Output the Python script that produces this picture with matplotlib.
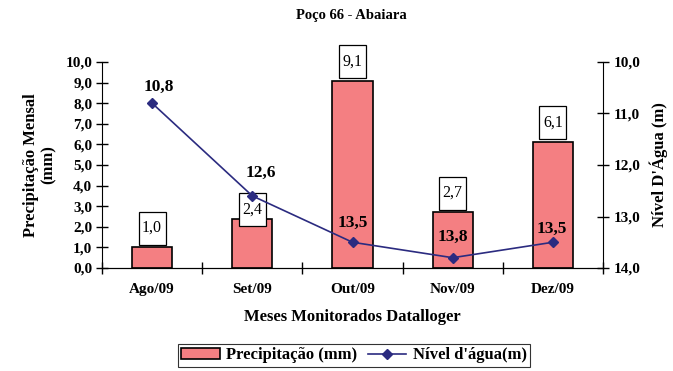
import matplotlib
matplotlib.use('Agg')
import matplotlib.pyplot as plt
from matplotlib.patches import Rectangle
from matplotlib.ticker import FuncFormatter

meses = ['Ago/09', 'Set/09', 'Out/09', 'Nov/09', 'Dez/09']
precip = [1.0, 2.4, 9.1, 2.7, 6.1]
nivel = [10.8, 12.6, 13.5, 13.8, 13.5]

plt.rcParams['font.family'] = 'Liberation Serif'
plt.rcParams['font.weight'] = 'bold'

fig = plt.figure(figsize=(6.73, 3.71), dpi=100)
ax = fig.add_axes([0.1516, 0.2776, 0.7444, 0.5553])
x = list(range(len(meses)))

bars = ax.bar(x, precip, width=0.4, color='#F47F82', edgecolor='black', linewidth=1.2,
              label='Precipitação (mm)', zorder=2)
ax.set_xlim(-0.5, 4.5)
ax.set_ylim(0, 10)
ax.set_yticks([i for i in range(11)])
comma = FuncFormatter(lambda v, p: ('%.1f' % v).replace('.', ','))
ax.yaxis.set_major_formatter(comma)
ax.set_xticks(x)
ax.set_xticklabels(meses, fontsize=11, fontweight='bold')
ax.set_xticks([i + 0.5 for i in range(-1, 5)], minor=True)
ax.tick_params(axis='x', which='major', length=0, pad=11)
ax.tick_params(axis='x', which='minor', length=8, direction='inout', width=1)
ax.tick_params(axis='y', direction='inout', length=8, labelsize=11, width=1, pad=3)
for t in ax.get_yticklabels():
    t.set_fontweight('bold')
ax.spines['top'].set_visible(False)
ax.spines['right'].set_visible(False)
ax.set_xlabel('Meses Monitorados Datalloger', fontsize=12, fontweight='bold', labelpad=9)
ax.set_ylabel('Precipitação Mensal\n(mm)', fontsize=12, fontweight='bold', labelpad=6)

# bar value boxes
for i, v in enumerate(precip):
    yy = v + 0.94
    if i == 1:
        yy = v + 0.42
    ax.add_patch(Rectangle((i - 0.135, yy - 0.8), 0.27, 1.6, facecolor='white',
                           edgecolor='black', linewidth=0.9, clip_on=False, zorder=4))
    ax.text(i, yy, ('%.1f' % v).replace('.', ','), ha='center', va='center',
            fontsize=11.5, fontweight='normal', clip_on=False, zorder=4)

ax2 = ax.twinx()
line, = ax2.plot(x, nivel, color='#2B2B80', marker='D', markersize=5, linewidth=1.2,
                 label="Nível d'água(m)", zorder=5)
ax2.set_ylim(14, 10)
ax2.set_yticks([10, 11, 12, 13, 14])
ax2.yaxis.set_major_formatter(comma)
ax2.tick_params(axis='y', direction='inout', length=8, labelsize=11, width=1, pad=4)
for t in ax2.get_yticklabels():
    t.set_fontweight('bold')
ax2.spines['top'].set_visible(False)
ax2.spines['left'].set_visible(False)
ax2.set_ylabel("Nível D'Água (m)", fontsize=12, fontweight='bold', labelpad=6)

offs = [(5, 11.5), (6, 16.5), (0, 13.7), (0, 15), (-1, 9.5)]
for i, v in enumerate(nivel):
    ax2.annotate(('%.1f' % v).replace('.', ','), (i, v), xytext=offs[i],
                 textcoords='offset points', ha='center', va='center',
                 fontsize=12.5, fontweight='bold', zorder=6)

fig.suptitle('Poço 66 - Abaiara', fontsize=10.5, fontweight='bold', x=0.522, y=0.975)

leg = fig.legend([bars, line], ['Precipitação (mm)', "Nível d'água(m)"], ncol=2,
                 loc='center', bbox_to_anchor=(0.526, 0.042), fancybox=False,
                 edgecolor='black', fontsize=12, handlelength=2.3, borderpad=0.2,
                 columnspacing=0.6, handletextpad=0.4)
leg.get_frame().set_linewidth(0.8)

fig.savefig('out.png', dpi=100)
